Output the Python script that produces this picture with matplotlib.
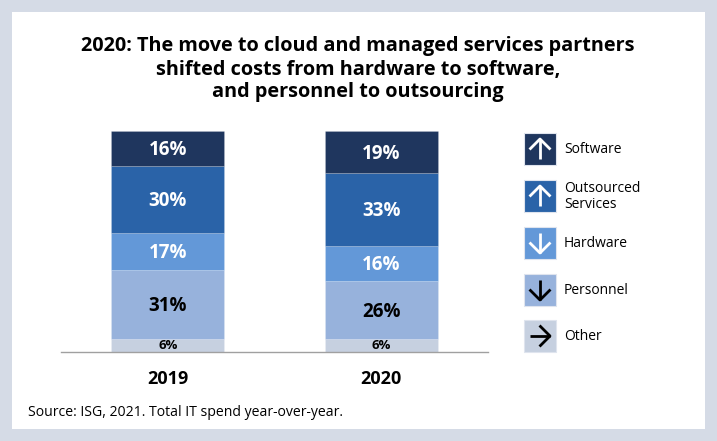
import matplotlib
matplotlib.use("Agg")
import matplotlib.pyplot as plt
from matplotlib.patches import Rectangle

plt.rcParams['font.family'] = ['Open Sans', 'DejaVu Sans']

years = ["2019", "2020"]
categories = ["Other", "Personnel", "Hardware", "Outsourced Services", "Software"]
values_2019 = [6, 31, 17, 30, 16]
values_2020 = [6, 26, 16, 33, 19]
colors = ["#c6d0e0", "#97b2dc", "#6398d8", "#2a63a8", "#1f365e"]
label_colors = ["black", "black", "white", "white", "white"]
legend_labels = ["Software", "Outsourced\nServices", "Hardware", "Personnel", "Other"]
legend_colors = ["#1f365e", "#2a63a8", "#6398d8", "#97b2dc", "#c6d0e0"]
legend_arrows = ["up", "up", "down", "down", "right"]
legend_arrow_colors = ["white", "white", "white", "black", "black"]
title = ("2020: The move to cloud and managed services partners\n"
         "shifted costs from hardware to software,\n"
         "and personnel to outsourcing")
source = "Source: ISG, 2021. Total IT spend year-over-year."

W, H = 717, 441
fig = plt.figure(figsize=(W / 100, H / 100), dpi=100)
fig.patch.set_facecolor("#d5dbe6")

# overlay axes in pixel coordinates
ov = fig.add_axes([0, 0, 1, 1])
ov.set_xlim(0, W)
ov.set_ylim(H, 0)
ov.axis("off")
ov.add_patch(Rectangle((12, 12), W - 24, H - 24, facecolor="white", edgecolor="none", zorder=0))

ov.text(358, 36.5, title, ha="center", va="top", fontsize=14.3, fontweight="bold",
        color="black", linespacing=1.2)
ov.text(28, 412, source, ha="left", va="center", fontsize=10.1, color="black")

# bar axes
left, right = 61, 488
top, base = 131, 352
ax = fig.add_axes([left / W, (H - base) / H, (right - left) / W, (base - top) / H])
ax.set_facecolor("none")
ax.set_xlim(-0.5, 1.5)
ax.set_ylim(0, 100)
for s in ["top", "right", "left"]:
    ax.spines[s].set_visible(False)
ax.spines["bottom"].set_color("#a0a0a0")
ax.spines["bottom"].set_linewidth(1.0)
ax.set_yticks([])
ax.set_xticks([0, 1])
ax.set_xticklabels(years, fontsize=13, fontweight="bold")
ax.tick_params(axis="x", length=0, pad=13)

data = [values_2019, values_2020]
for xi, vals in enumerate(data):
    bottom = 0
    for ci, v in enumerate(vals):
        ax.bar(xi, v, bottom=bottom, width=0.53, color=colors[ci],
               edgecolor="#ffffff30", linewidth=0.6)
        small = v < 10
        ax.text(xi, bottom + v / 2 - (0.2 if small else 0.8), f"{v}%", ha="center", va="center",
                fontsize=9.5 if small else 13.5, fontweight="bold",
                color=label_colors[ci])
        bottom += v

# legend
sq = 32
lx = 524
ys = [133, 180, 227, 274, 320]
for y0, lab, col, arr, acol in zip(ys, legend_labels, legend_colors, legend_arrows, legend_arrow_colors):
    ov.add_patch(Rectangle((lx, y0), sq, sq, facecolor=col, edgecolor="#dfe4ee", linewidth=0.8, zorder=2))
    cx, cy = lx + sq / 2, y0 + sq / 2
    lw = 2.0
    hl = 9.5
    m = 6
    if arr == "up":
        ov.plot([cx, cx], [y0 + m, y0 + sq - m], color=acol, lw=lw, zorder=3, solid_capstyle="butt")
        ov.plot([cx - hl, cx, cx + hl], [y0 + m + hl, y0 + m, y0 + m + hl], color=acol, lw=lw, zorder=3)
    elif arr == "down":
        ov.plot([cx, cx], [y0 + m, y0 + sq - m], color=acol, lw=lw, zorder=3, solid_capstyle="butt")
        ov.plot([cx - hl, cx, cx + hl], [y0 + sq - m - hl, y0 + sq - m, y0 + sq - m - hl], color=acol, lw=lw, zorder=3)
    else:
        ov.plot([lx + m, lx + sq - m], [cy, cy], color=acol, lw=lw, zorder=3, solid_capstyle="butt")
        ov.plot([lx + sq - m - hl, lx + sq - m, lx + sq - m - hl], [cy - hl, cy, cy + hl], color=acol, lw=lw, zorder=3)
    ov.text(564, cy + 0.5, lab, ha="left", va="center", fontsize=10, color="black", linespacing=1.1)

fig.savefig("out.png", dpi=100, facecolor=fig.get_facecolor())
